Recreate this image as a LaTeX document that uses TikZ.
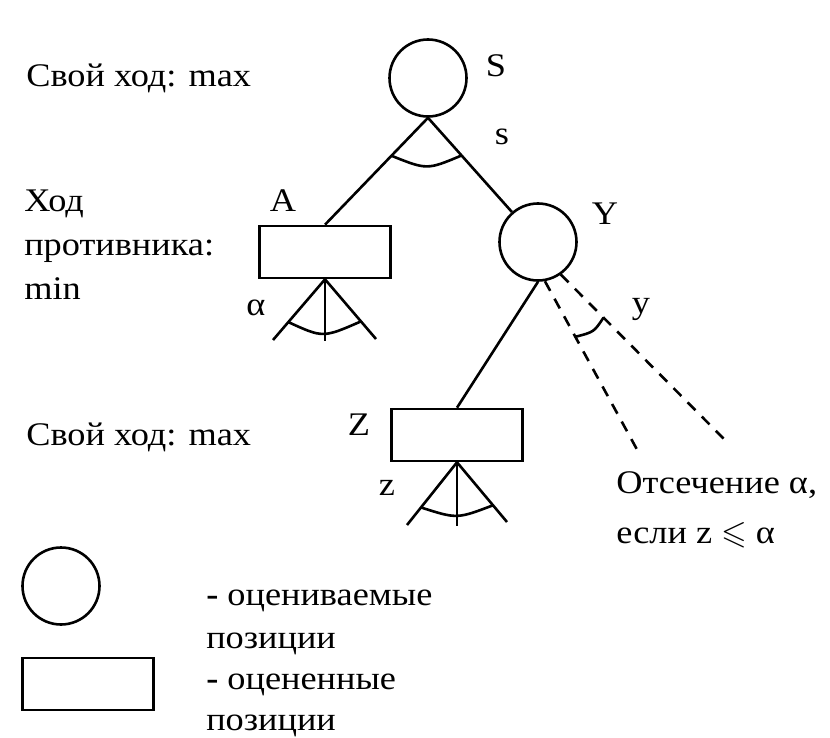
\documentclass[tikz,border=0pt]{standalone}
\usetikzlibrary{calc}
\usepackage{amssymb}
\usepackage{fontspec}
\setmainfont[FakeStretch=1.1]{Liberation Serif}
\begin{document}
\begin{tikzpicture}[x=1pt,y=-1pt, line width=2.6pt,
  txt/.style={inner sep=0pt, font=\fontsize{33}{40}\selectfont},
  posc/.style={circle, draw, minimum size=77pt, inner sep=0pt},
  posr/.style={rectangle, draw, minimum width=131pt, minimum height=52pt, inner sep=0pt},
  cut/.style={dash pattern=on 11pt off 9pt}]
\useasboundingbox (0,0) rectangle (830,738);
% positions
\node[posc] (S) at (428,78) {};
\node[posr] (A) at (325,252) {};
\node[posc] (Y) at (538,242) {};
\node[posr] (Z) at (457,435) {};
% legend shapes
\node[posc] (LC) at (61,586) {};
\node[posr] (LR) at (88,684) {};
% edges
\draw (S.south) -- (A.north);
\draw (S.south) -- (Y.131);
\draw (Y.south) -- (Z.north);
\draw ($(S.south)!0.355!(A.north)$) .. controls (427,170) .. ($(S.south)!0.40!(Y.131)$);
% subtree under A
\coordinate (a1) at (273,340);
\coordinate (a2) at (376,339);
\coordinate (a3) at (325,341);
\draw (A.south) -- (a1);
\draw (A.south) -- (a2);
\draw (A.south) -- (a3);
\draw ($(A.south)!0.705!(a1)$) .. controls (323,338) .. ($(A.south)!0.705!(a2)$);
% subtree under Z
\coordinate (z1) at (407,525);
\coordinate (z2) at (507,522);
\coordinate (z3) at (457,526);
\draw (Z.south) -- (z1);
\draw (Z.south) -- (z2);
\draw (Z.south) -- (z3);
\draw ($(Z.south)!0.72!(z1)$) .. controls (457,519) .. ($(Z.south)!0.72!(z2)$);
% cut-off branches of Y
\coordinate (d1) at (640,455);
\coordinate (d2) at (725,440);
\draw[cut] (Y.-80) -- (d1);
\draw[cut] (Y.-55) -- (d2);
\draw ($(Y.-80)!0.32!(d1)$) .. controls (594,332) .. ($(Y.-55)!0.26!(d2)$);
% left texts
\node[txt, anchor=base west] (t1) at (25,87) {Свой ход: max};
\node[txt, anchor=base west] (t2) at (23,212) {Ход};
\node[txt, anchor=base west] (t3) at (23,255) {противника:};
\node[txt, anchor=base west] (t4) at (23,299) {min};
\node[txt, anchor=base west] (t5) at (25,445) {Свой ход: max};
% labels
\node[txt, anchor=base] (lS) at (496,77) {S};
\node[txt, anchor=base] (ls) at (502,145) {s};
\node[txt, anchor=base] (lA) at (283,212) {A};
\node[txt, anchor=base] (lal) at (256,315) {α};
\node[txt, anchor=base] (lY) at (605,225) {Y};
\node[txt, anchor=base] (ly) at (641,313) {y};
\node[txt, anchor=base] (lZ) at (359,435) {Z};
\node[txt, anchor=base] (lz) at (387,495) {z};
% cut text
\node[txt, anchor=base west] (c1) at (615,493) {Отсечение α,};
\node[txt, anchor=base west] (c2) at (615,543) {если z $\leqslant$ α};
% legend texts
\node[txt, anchor=base west] (g1) at (205,605) {\textbf{-} оцениваемые};
\node[txt, anchor=base west] (g2) at (205,648) {позиции};
\node[txt, anchor=base west] (g3) at (205,689) {\textbf{-} оцененные};
\node[txt, anchor=base west] (g4) at (205,730) {позиции};
\end{tikzpicture}
\end{document}
